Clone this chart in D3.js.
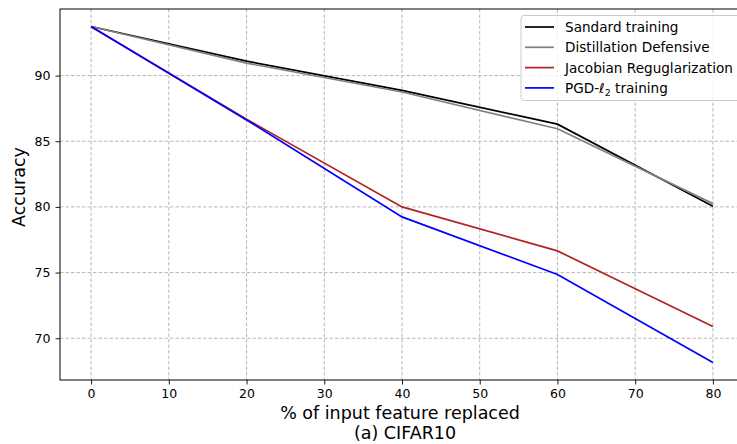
<!DOCTYPE html>
<html><head><meta charset="utf-8">
<script src="https://cdn.jsdelivr.net/npm/d3@7"></script>
<style>
html,body{margin:0;padding:0;background:#fff;overflow:hidden}
svg{display:block;font-family:"DejaVu Sans",sans-serif}
</style></head>
<body><svg id="c" width="737" height="444"></svg>
<script>
const xValues = [0, 20, 40, 60, 80];
const standard = [93.74, 91.1, 88.87, 86.3, 80.05];
const distillation = [93.74, 90.95, 88.75, 85.95, 80.25];
const jacobian = [93.72, 86.68, 80.0, 76.65, 70.9];
const pgd = [93.74, 86.62, 79.24, 74.85, 68.15];
const seriesNames = ["Sandard training", "Distillation Defensive", "Jacobian Reguglarization", "PGD-ℓ2 training"];
const seriesColors = ["#000000", "#808080", "#b22222", "#0000ff"];
const xTicks = [0, 10, 20, 30, 40, 50, 60, 70, 80];
const yTicks = [70, 75, 80, 85, 90];
const xLabel = "% of input feature replaced";
const subLabel = "(a) CIFAR10";
const yLabel = "Accuracy";

const svg = d3.select("#c");
const L = 60, R = 744, T = 9, B = 380;
const x = d3.scaleLinear().domain([-4, 84]).range([L, R]);
const y = d3.scaleLinear().domain([66.82, 95.07]).range([B, T]);

// grid
const g = svg.append("g");
g.selectAll("line.gx").data(xTicks).enter().append("line")
  .attr("x1", d => x(d)).attr("x2", d => x(d)).attr("y1", T).attr("y2", B)
  .attr("stroke", "#b0b0b0").attr("stroke-width", 0.9).attr("stroke-dasharray", "3.5,2");
g.selectAll("line.gy").data(yTicks).enter().append("line")
  .attr("y1", d => y(d)).attr("y2", d => y(d)).attr("x1", L).attr("x2", R)
  .attr("stroke", "#b0b0b0").attr("stroke-width", 0.9).attr("stroke-dasharray", "3.5,2");

// lines
const all = [standard, distillation, jacobian, pgd];
const line = d3.line().x((d, i) => x(xValues[i])).y(d => y(d));
all.forEach((s, k) => {
  svg.append("path").datum(s).attr("d", line).attr("fill", "none")
    .attr("stroke", seriesColors[k]).attr("stroke-width", 1.7);
});

// axes
const xAxis = d3.axisBottom(x).tickValues(xTicks).tickSize(4.5).tickPadding(5).tickFormat(d3.format("d"));
const yAxis = d3.axisLeft(y).tickValues(yTicks).tickSize(4.5).tickPadding(5).tickFormat(d3.format("d"));
const gx = svg.append("g").attr("transform", `translate(0,${B})`).call(xAxis);
const gy = svg.append("g").attr("transform", `translate(${L},0)`).call(yAxis);
[gx, gy].forEach(a => {
  a.select(".domain").remove();
  a.selectAll("text").attr("font-family", "DejaVu Sans").attr("font-size", 12.5).attr("fill", "#000");
  a.selectAll("line").attr("stroke", "#000").attr("stroke-width", 0.9);
});
// frame
svg.append("rect").attr("x", L).attr("y", T).attr("width", R - L).attr("height", B - T)
  .attr("fill", "none").attr("stroke", "#000").attr("stroke-width", 1);

// labels
svg.append("text").attr("x", 400).attr("y", 419).attr("text-anchor", "middle")
  .attr("font-size", 17.5).text(xLabel);
svg.append("text").attr("x", 405).attr("y", 439).attr("text-anchor", "middle")
  .attr("font-size", 17.5).text(subLabel);
svg.append("text").attr("transform", `translate(24.5,187) rotate(-90)`).attr("text-anchor", "middle")
  .attr("font-size", 17.5).text(yLabel);

// legend
const lg = svg.append("g");
lg.append("rect").attr("x", 521).attr("y", 15.5).attr("width", 230).attr("height", 85).attr("rx", 3)
  .attr("fill", "#fff").attr("fill-opacity", 0.8).attr("stroke", "#cccccc").attr("stroke-width", 1);
seriesNames.forEach((n, k) => {
  const yy = 27 + k * 20.3;
  lg.append("line").attr("x1", 525).attr("x2", 554).attr("y1", yy).attr("y2", yy)
    .attr("stroke", seriesColors[k]).attr("stroke-width", 1.7);
  const t = lg.append("text").attr("x", 565).attr("y", yy + 5).attr("font-size", 13.6);
  if (n.indexOf("ℓ2") >= 0) {
    const parts = n.split("ℓ2");
    t.append("tspan").text(parts[0]);
    t.append("tspan").attr("font-style", "italic").text("ℓ");
    t.append("tspan").attr("font-size", 9.5).attr("dy", 3).text("2");
    t.append("tspan").attr("dy", -3).text(parts[1]);
  } else t.text(n);
});
</script></body></html>
